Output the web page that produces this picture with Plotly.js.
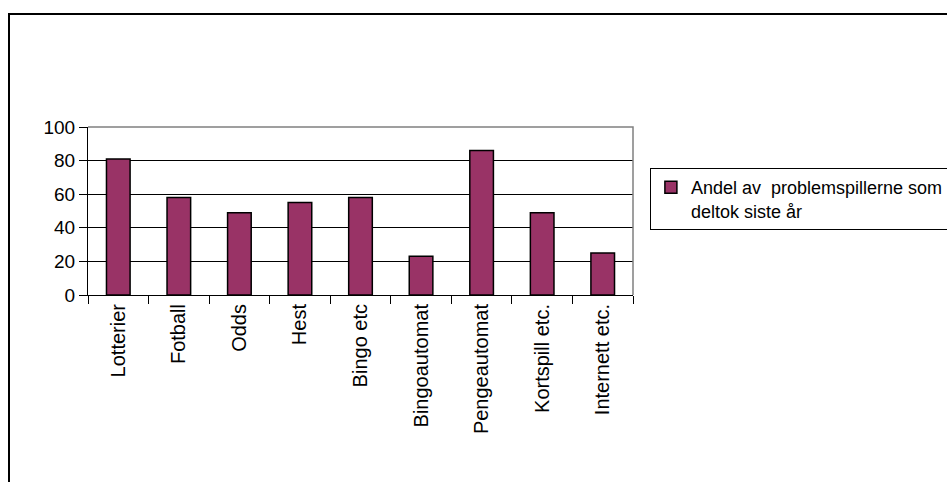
<!DOCTYPE html>
<html>
<head>
<meta charset="utf-8">
<script src="https://cdn.plot.ly/plotly-3.0.1.min.js"></script>
<style>
  html, body { margin: 0; padding: 0; background: #fff; }
  #wrap { position: relative; width: 947px; height: 482px; overflow: hidden; }
  #chart { width: 947px; height: 482px; }
  #frame {
    position: absolute; left: 8px; top: 13px; width: 1000px; height: 600px;
    border-left: 2px solid #000; border-top: 2px solid #000;
    pointer-events: none;
  }
</style>
</head>
<body>
<div id="wrap">
  <div id="chart"></div>
  <div id="frame"></div>
</div>
<script>
// Spilltyper og andel problemspillere som deltok siste år (%)
const categories = ["Lotterier", "Fotball", "Odds", "Hest", "Bingo etc", "Bingoautomat", "Pengeautomat", "Kortspill etc.", "Internett etc."];
const shares = [81, 58, 49, 55, 58, 23, 86, 49, 25];
const seriesName = "Andel av\u00a0 problemspillerne som<br>deltok siste år";
const yTicks = [0, 20, 40, 60, 80, 100];

const font = "Liberation Sans, Arial, Helvetica, sans-serif";

const trace = {
  type: "bar",
  x: categories,
  y: shares,
  name: seriesName,
  showlegend: true,
  marker: { color: "#993366", line: { color: "#000", width: 1.5 } },
  hoverinfo: "x+y"
};

const layout = {
  width: 947,
  height: 482,
  margin: { l: 88, r: 314, t: 127, b: 187, pad: 0, autoexpand: false },
  paper_bgcolor: "#fff",
  plot_bgcolor: "#fff",
  font: { family: font, size: 18, color: "#000" },
  bargap: 0.61,
  showlegend: true,
  xaxis: {
    type: "category",
    automargin: false,
    showline: true,
    linecolor: "#000",
    linewidth: 1,
    showgrid: false,
    ticks: "outside",
    tickson: "boundaries",
    ticklen: 8,
    tickcolor: "#000",
    tickwidth: 1,
    tickangle: -90,
    tickfont: { family: font, size: 20, color: "#000" },
    zeroline: false
  },
  yaxis: {
    range: [0, 100],
    automargin: false,
    tickvals: yTicks,
    ticktext: yTicks.map(String),
    showline: true,
    linecolor: "#000",
    linewidth: 1,
    showgrid: true,
    gridcolor: "#000",
    gridwidth: 1,
    ticks: "outside",
    ticklen: 8,
    tickcolor: "#000",
    tickwidth: 1,
    tickfont: { family: font, size: 19, color: "#000" },
    zeroline: false,
    fixedrange: true
  },
  shapes: [
    {
      type: "path",
      xref: "paper", yref: "paper",
      path: "M 0 1 L 1 1 L 1 0",
      line: { color: "#808080", width: 1.5 },
      layer: "above"
    }
  ],
  legend: {
    x: 1.031,
    y: 0.756,
    xanchor: "left",
    yanchor: "top",
    bgcolor: "#fff",
    bordercolor: "#000",
    borderwidth: 1,
    valign: "top",
    font: { family: font, size: 18, color: "#000" }
  }
};

Plotly.newPlot("chart", [trace], layout, { displayModeBar: false, staticPlot: true });
</script>
</body>
</html>
